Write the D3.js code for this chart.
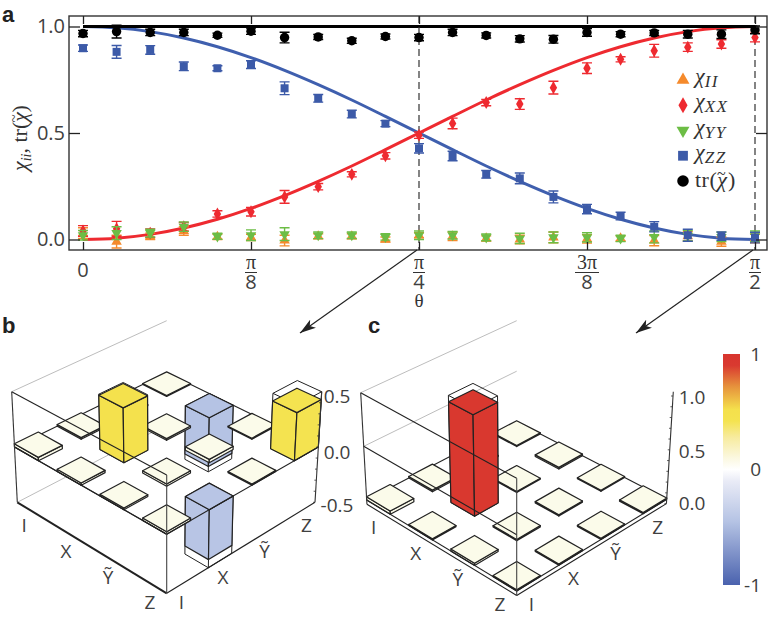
<!DOCTYPE html>
<html>
<head>
<meta charset="utf-8">
<script src="https://cdn.jsdelivr.net/npm/d3@7"></script>
<style>
html, body { margin: 0; padding: 0; background: #fff; }
svg { display: block; }
text { font-family: "Open Sans", sans-serif; fill: #404040; }
.math { font-family: "Liberation Serif", serif; fill: #333; }
.letter { font-family: "Liberation Sans", sans-serif; font-weight: bold; font-size: 22px; fill: #222; }
</style>
</head>
<body>
<svg width="771" height="641"></svg>
<script>
// panel a data, 21 points from 0 to pi/2
var theta = [0,0.0785,0.1571,0.2356,0.3142,0.3927,0.4712,0.5498,0.6283,0.7069,0.7854,0.8639,0.9425,1.0210,1.0996,1.1781,1.2566,1.3352,1.4137,1.4923,1.5708];

var chiII = [0.03,-0.01,0.015,0.04,0.012,0.01,-0.005,0.015,0.015,0,0.02,0.015,0.005,0,0.01,0.003,0.005,-0.005,0.015,-0.01,0.005];
var chiXX = [0.04,0.05,0.03,0.06,0.12,0.13,0.2,0.248,0.306,0.393,0.49,0.545,0.643,0.636,0.713,0.804,0.846,0.886,0.903,0.918,0.948];
var chiYY = [0.02,0.03,0.03,0.06,0.015,0.02,0.025,0.02,0.02,0.012,0.02,0.02,0.01,0.005,0.01,0.01,0.005,0.012,0.018,0.012,0.015];
var chiZZ = [0.898,0.881,0.89,0.813,0.804,0.821,0.71,0.663,0.589,0.544,0.428,0.392,0.306,0.287,0.2,0.143,0.11,0.06,0.02,0.016,0.009];
var chiTr = [0.967,0.976,0.972,0.972,0.959,0.978,0.948,0.951,0.933,0.953,0.948,0.972,0.958,0.942,0.94,0.972,0.964,0.97,0.964,0.964,0.984];

var errII = [0.025,0.03,0.015,0.02,0.012,0.015,0.025,0.012,0.012,0.012,0.012,0.02,0.012,0.02,0.025,0.02,0.012,0.024,0.022,0.022,0.02];
var errXX = [0.025,0.035,0.02,0.02,0.015,0.02,0.03,0.015,0.012,0.015,0.015,0.025,0.015,0.025,0.03,0.025,0.012,0.03,0.02,0.02,0.02];
var errYY = [0.022,0.03,0.018,0.022,0.014,0.025,0.03,0.016,0.015,0.015,0.02,0.018,0.016,0.024,0.025,0.022,0.015,0.028,0.025,0.022,0.025];
var errZZ = [0.015,0.03,0.02,0.02,0.012,0.018,0.03,0.018,0.018,0.014,0.022,0.022,0.018,0.025,0.028,0.022,0.018,0.024,0.028,0.02,0.025];
var errTr = [0.015,0.03,0.015,0.015,0.01,0.015,0.025,0.012,0.012,0.012,0.015,0.015,0.012,0.015,0.018,0.018,0.012,0.012,0.018,0.02,0.018];

// solid curves read at the same 21 positions
var curveXX = [0,0.006,0.024,0.054,0.095,0.146,0.206,0.273,0.345,0.422,0.5,0.578,0.655,0.727,0.794,0.854,0.905,0.946,0.976,0.994,1];
var curveZZ = [1,0.994,0.976,0.946,0.905,0.854,0.794,0.727,0.655,0.578,0.5,0.422,0.345,0.273,0.206,0.146,0.095,0.054,0.024,0.006,0];
var curveTr = [1,1,1,1,1,1,1,1,1,1,1,1,1,1,1,1,1,1,1,1,1];

var xTicks = [0,0.3927,0.7854,1.1781,1.5708];
var xTickTop = ["","π","π","3π","π"];
var xTickBottom = ["0","8","4","8","2"];
var yTicks = [0,0.5,1];

// panels b and c, rows are the left axis, columns the right axis
var pauli = ["I","X","Ỹ","Z"];
var chiB = [
  [0.03,0.015,0.01,0.008],
  [0.02,0.49,0.015,-0.45],
  [0.015,0.02,0.03,0.01],
  [0.02,-0.43,0.01,0.43]
];
var idealB = [[0,0,0,0],[0,0.5,0,-0.5],[0,0,0,0],[0,-0.5,0,0.5]];
var chiC = [
  [0.03,0.015,0.01,0.01],
  [0.01,0.94,0.01,0.015],
  [0.02,0.012,0.012,0.01],
  [0.01,0.012,0.01,0.012]
];
var idealC = [[0,0,0,0],[0,1,0,0],[0,0,0,0],[0,0,0,0]];
var barTicksB = [-0.5,0,0.5];
var barTicksC = [0,0.5,1];

var colorStops = [-1,-0.45,-0.1,0,0.1,0.28,0.42,0.52,0.72,0.9,1];
var colorValues = ["#4a62ae","#b5c3e4","#e9ebf6","#ffffff","#fbf8e0","#f7eb9e","#f4e350","#f4e04c","#e6913c","#d93a30","#d8352e"];

var svg = d3.select("svg");

// ---------- panel a
var x = d3.scaleLinear().domain([0, 1.5708]).range([83, 755]);
var y = d3.scaleLinear().domain([0, 1]).range([239.5, 26.5]);
var frame = {left: 69, right: 767, top: 16, bottom: 250};

var a = svg.append("g");

var line = d3.line()
    .x(function(d) { return x(d[0]); })
    .y(function(d) { return y(d[1]); })
    .curve(d3.curveMonotoneX);

[[curveZZ,"#3f5fae"],[curveXX,"#ee2a30"],[curveTr,"#000"]].forEach(function(c) {
  a.append("path")
      .attr("d", line(d3.zip(theta, c[0])))
      .attr("fill", "none")
      .attr("stroke", c[1])
      .attr("stroke-width", 3);
});

[1.5708, 0.7854].forEach(function(t) {
  a.append("line")
      .attr("x1", x(t)).attr("x2", x(t))
      .attr("y1", frame.top).attr("y2", frame.bottom)
      .attr("stroke", "#333")
      .attr("stroke-width", 1.2)
      .attr("stroke-dasharray", "7,4");
});

var series = [
  {vals: chiII, err: errII, color: "#f58a2c", type: d3.symbolTriangle, size: 48, rot: 0},
  {vals: chiXX, err: errXX, color: "#ee2a30", type: d3.symbolDiamond, size: 48, rot: 0},
  {vals: chiYY, err: errYY, color: "#6cbd45", type: d3.symbolTriangle, size: 48, rot: 180},
  {vals: chiZZ, err: errZZ, color: "#3c5aa8", type: d3.symbolSquare, size: 64, rot: 0},
  {vals: chiTr, err: errTr, color: "#000", type: d3.symbolCircle, size: 70, rot: 0}
];

series.forEach(function(s) {
  var g = a.append("g");
  theta.forEach(function(t, i) {
    var px = x(t), lo = y(s.vals[i] - s.err[i]), hi = y(s.vals[i] + s.err[i]);
    g.append("path")
        .attr("d", "M" + (px - 5) + "," + hi + "H" + (px + 5) + "M" + px + "," + hi + "V" + lo + "M" + (px - 5) + "," + lo + "H" + (px + 5))
        .attr("fill", "none")
        .attr("stroke", s.color)
        .attr("stroke-width", 1.4);
    g.append("path")
        .attr("d", d3.symbol().type(s.type).size(s.size)())
        .attr("transform", "translate(" + px + "," + y(s.vals[i]) + ") rotate(" + s.rot + ")")
        .attr("fill", s.color);
  });
});

// frame and ticks
a.append("rect")
    .attr("x", frame.left).attr("y", frame.top)
    .attr("width", frame.right - frame.left).attr("height", frame.bottom - frame.top)
    .attr("fill", "none").attr("stroke", "#333").attr("stroke-width", 1.4);

var xBottom = a.append("g")
    .attr("transform", "translate(0," + frame.bottom + ")")
    .call(d3.axisBottom(x).tickValues(xTicks).tickSize(-8).tickFormat(""));
var xTop = a.append("g")
    .attr("transform", "translate(0," + frame.top + ")")
    .call(d3.axisTop(x).tickValues(xTicks).tickSize(-8).tickFormat(""));
var yLeft = a.append("g")
    .attr("transform", "translate(" + frame.left + ",0)")
    .call(d3.axisLeft(y).tickValues(yTicks).tickSize(-11).tickPadding(4).tickFormat(d3.format(".1f")));
var yRight = a.append("g")
    .attr("transform", "translate(" + frame.right + ",0)")
    .call(d3.axisRight(y).tickValues(yTicks).tickSize(-11).tickFormat(""));
[xBottom, xTop, yLeft, yRight].forEach(function(ax) {
  ax.select(".domain").remove();
  ax.selectAll(".tick line").attr("stroke", "#222").attr("stroke-width", 1.3);
});
yLeft.selectAll("text").style("font-size", "20px").style("font-family", "'Open Sans'").attr("fill", "#404040");

// tick labels, the fractions are one text each
xTicks.forEach(function(t, i) {
  if (i === 0) {
    a.append("text").attr("x", x(t)).attr("y", 277).attr("text-anchor", "middle").style("font-size", "20px").text(xTickBottom[i]);
    return;
  }
  var label = a.append("text").attr("text-anchor", "middle").attr("x", x(t)).attr("y", 269);
  label.append("tspan").attr("class", "math").attr("x", x(t)).style("font-size", "20px").text(xTickTop[i]);
  label.append("tspan").attr("x", x(t)).attr("dy", 19.5).style("font-size", "20px").text(xTickBottom[i]);
  var half = xTickTop[i].length > 1 ? 12 : 6;
  a.append("line").attr("x1", x(t) - half).attr("x2", x(t) + half).attr("y1", 272.5).attr("y2", 272.5)
      .attr("stroke", "#333").attr("stroke-width", 1);
});

a.append("text").attr("class", "math").attr("x", x(0.7854)).attr("y", 307)
    .attr("text-anchor", "middle").style("font-size", "19px").text("θ");

// chi with a wide tilde on top of it
function chiTilde(t, tildeSize, back, up) {
  t.append("tspan").style("font-style", "italic").text("χ");
  t.append("tspan").attr("dx", -back).attr("dy", -up).style("font-size", tildeSize + "px").text("~");
  t.append("tspan").attr("dx", 2).attr("dy", up).text(")");
}

var yTitle = a.append("text").attr("class", "math")
    .attr("transform", "translate(27,171) rotate(-90)")
    .style("font-size", "22px");
yTitle.append("tspan").style("font-style", "italic").text("χ");
yTitle.append("tspan").attr("dy", 4).style("font-size", "14px").style("font-style", "italic").text("ii");
yTitle.append("tspan").attr("dy", -4).text(", tr(");
chiTilde(yTitle, 15, 10.5, 8);

// legend
var legendRows = [["χ","II"],["χ","XX"],["χ","YY"],["χ","ZZ"],["tr",""]];
var legendY = d3.scalePoint().domain(d3.range(5)).range([80, 181]);
legendRows.forEach(function(row, i) {
  var s = series[i], ly = legendY(i);
  a.append("path")
      .attr("d", d3.symbol().type(s.type).size(s.size * 1.5)())
      .attr("transform", "translate(683," + ly + ") rotate(" + s.rot + ")")
      .attr("fill", s.color);
  var t = a.append("text").attr("class", "math").attr("x", 695).attr("y", ly + 3).style("font-size", "22px");
  if (row[0] === "χ") {
    t.append("tspan").style("font-style", "italic").text("χ");
    t.append("tspan").attr("dy", 4).style("font-size", "17px").style("letter-spacing", "1.5px").style("font-style", "italic").text(row[1]);
  } else {
    t.style("letter-spacing", "0.5px").attr("y", ly + 6);
    t.append("tspan").text("tr(");
    chiTilde(t, 16, 10.5, 8);
  }
});

// arrows from the dashed lines down to panels b and c
var defs = svg.append("defs");
defs.append("marker")
    .attr("id", "head").attr("viewBox", "0 0 16 10")
    .attr("refX", 16).attr("refY", 5)
    .attr("markerWidth", 16).attr("markerHeight", 10)
    .attr("markerUnits", "userSpaceOnUse")
    .attr("orient", "auto")
  .append("path")
    .attr("d", "M0,0L16,5L0,10L4,5Z")
    .attr("fill", "#222");

[[0.7854,300,333],[1.5708,636,333]].forEach(function(d) {
  a.append("line")
      .attr("x1", x(d[0]) - 2).attr("y1", frame.bottom)
      .attr("x2", d[1]).attr("y2", d[2])
      .attr("stroke", "#222").attr("stroke-width", 1.2)
      .attr("marker-end", "url(#head)");
});

// ---------- bar panels
var cellScale = d3.scaleLinear().domain([-0.28, 3.28]).range([0, 1]);
var halfCell = 0.28;

var colorScale = d3.scaleLinear().domain(colorStops).range(colorValues);
var tileColor = "#fbfbea";

function makeProject(low, high, zDomain) {
  var zs = d3.scaleLinear().domain(zDomain).range([0, 1]);
  function plane(q, r, c) {
    var u = cellScale(r), v = cellScale(c);
    return d3.interpolate(d3.interpolate(q.L, q.F)(u), d3.interpolate(q.B, q.R)(u))(v);
  }
  return function(r, c, z) {
    return d3.interpolate(plane(low, r, c), plane(high, r, c))(zs(z));
  };
}

function poly(pts) {
  return d3.line()(pts) + "Z";
}

function drawBars(parent, project, values, ideal) {
  var cells = [];
  values.forEach(function(row, r) {
    row.forEach(function(v, c) {
      cells.push({r: r, c: c, v: v, t: ideal[r][c]});
    });
  });
  cells.sort(function(p, q) { return (p.r - p.c) - (q.r - q.c); });

  cells.forEach(function(d) {
    var w = halfCell;
    function corners(z) {
      return {
        left: project(d.r - w, d.c - w, z),
        front: project(d.r + w, d.c - w, z),
        right: project(d.r + w, d.c + w, z),
        back: project(d.r - w, d.c + w, z)
      };
    }
    var g = parent.append("g");
    if (d.t !== 0) {
      var wt = corners(Math.max(d.t, 0)), wb = corners(Math.min(d.t, 0));
      g.append("path")
          .attr("d", poly([wt.left, wt.front, wt.right, wt.back]) +
            d3.line()([wb.left, wb.front, wb.right]) +
            d3.line()([wt.left, wb.left]) + d3.line()([wt.front, wb.front]) + d3.line()([wt.right, wb.right]))
          .attr("fill", "none").attr("stroke", "#222").attr("stroke-width", 1);
    }
    var top = corners(Math.max(d.v, 0)), bot = corners(Math.min(d.v, 0));
    var fill = Math.abs(d.v) < 0.06 ? tileColor : colorScale(d.v);
    [[top.left, top.front, bot.front, bot.left],
     [top.front, top.right, bot.right, bot.front],
     [top.left, top.front, top.right, top.back]].forEach(function(f) {
      g.append("path")
          .attr("d", poly(f))
          .attr("fill", fill)
          .attr("stroke", "#222")
          .attr("stroke-width", 1.2)
          .attr("stroke-linejoin", "round");
    });
  });
}

function edge(parent, p, q, color, width) {
  parent.append("line")
      .attr("x1", p[0]).attr("y1", p[1]).attr("x2", q[0]).attr("y2", q[1])
      .attr("stroke", color).attr("stroke-width", width);
}

function drawPanel(opts) {
  var g = svg.append("g");
  var p = opts.project, lo = opts.zLow, hi = opts.zHigh, mid = opts.zMid;
  var e = 0.28, a0 = -e, a1 = 3 + e;
  var L = function(z) { return p(a0, a0, z); };
  var F = function(z) { return p(a1, a0, z); };
  var R = function(z) { return p(a1, a1, z); };
  var B = function(z) { return p(a0, a1, z); };

  // back walls
  edge(g, L(hi), B(hi), "#bdbdbd", 1);
  edge(g, L(opts.grayLow), B(opts.grayLow), "#bdbdbd", 1);
  edge(g, L(opts.floor), B(opts.floor), "#222", 1.1);
  edge(g, B(opts.floor), R(opts.floor), "#222", 1.1);

  drawBars(g, p, opts.values, opts.ideal);

  // front of the box, on top of the bars
  edge(g, L(hi), F(hi), "#222", 1.1);
  edge(g, L(mid), F(mid), "#222", 1.1);
  edge(g, L(lo), F(lo), "#222", opts.frontWidth);
  edge(g, F(lo), R(lo), "#222", 1.1);
  edge(g, L(opts.floor), F(opts.floor), "#222", 1.1);
  edge(g, F(opts.floor), R(opts.floor), "#222", 1.1);
  edge(g, L(lo), L(hi), "#333", 1.1);
  edge(g, R(lo), R(hi), "#333", 1.1);
  edge(g, F(lo), F(hi), "#444", 1.1);

  // z axis minor ticks and labels
  d3.range(lo, hi + 0.001, opts.minor).forEach(function(z) {
    var q = R(z);
    edge(g, q, [q[0] - 2, q[1]], "#333", 0.8);
  });
  opts.ticks.forEach(function(z, i) {
    var q = R(z);
    g.append("text").attr("x", opts.tickX).attr("y", q[1] + opts.tickDy[i])
        .style("font-size", "19px")
        .attr("text-anchor", "middle")
        .text(d3.format(".1f")(z).replace("−", "-"));
  });

  // cell labels under both bottom edges
  pauli.forEach(function(name, i) {
    var l = p(i, a0, lo), r = p(a1, i, lo);
    g.append("text").attr("x", l[0] - 5).attr("y", l[1] + 23)
        .attr("text-anchor", "middle").style("font-size", "19px").text(name);
    g.append("text").attr("x", r[0] + 3).attr("y", r[1] + 23)
        .attr("text-anchor", "middle").style("font-size", "19px").text(name);
  });
}

drawPanel({
  project: makeProject(
    {L: [17.3,502.3], F: [166.7,593.3], R: [315,502.3], B: [166.7,424.7]},
    {L: [11.7,391.7], F: [166.7,475], R: [321.7,391.7], B: [166.7,320.7]},
    [-0.5, 0.5]),
  values: chiB, ideal: idealB,
  zLow: -0.5, zMid: 0, zHigh: 0.5, grayLow: -0.5, floor: 0, minor: 0.1,
  frontWidth: 2,
  ticks: barTicksB, tickX: 337, tickDy: [10, 12, 11]
});

drawPanel({
  project: makeProject(
    {L: [366.7,500], F: [516.7,591], R: [666.7,499.3], B: [516.7,421.7]},
    {L: [360.7,392.7], F: [516.7,478.3], R: [673.3,391.7], B: [516.7,320.7]},
    [0, 1]),
  values: chiC, ideal: idealC,
  zLow: -0.04, zMid: 0.5, zHigh: 1, grayLow: 0.5, floor: 0, minor: 0.1,
  frontWidth: 1.1,
  ticks: barTicksC, tickX: 692, tickDy: [11, 12.5, 12]
});

// colour bar
var barScale = d3.scaleLinear().domain([-1, 1]).range([585, 354]);
var grad = defs.append("linearGradient")
    .attr("id", "cbar").attr("x1", 0).attr("x2", 0).attr("y1", 1).attr("y2", 0);
colorStops.forEach(function(s, i) {
  grad.append("stop")
      .attr("offset", (s + 1) / 2)
      .attr("stop-color", colorValues[i]);
});
svg.append("rect")
    .attr("x", 723).attr("y", barScale(1))
    .attr("width", 17).attr("height", barScale(-1) - barScale(1))
    .attr("fill", "url(#cbar)");
var barAxis = svg.append("g")
    .attr("transform", "translate(740,0)")
    .call(d3.axisRight(barScale).tickValues([-1,0,1]).tickSize(0).tickFormat(d3.format("d")));
barAxis.select(".domain").remove();
barAxis.selectAll("text").style("font-size", "19px").style("font-family", "'Open Sans'").attr("fill", "#404040")
    .attr("text-anchor", "end").attr("x", 21)
    .text(function(d) { return String(d); });

svg.append("text").attr("class", "letter").attr("x", 2).attr("y", 22).text("a");
svg.append("text").attr("class", "letter").attr("x", 2).attr("y", 333).text("b");
svg.append("text").attr("class", "letter").attr("x", 368).attr("y", 333).text("c");
</script>
</body>
</html>
